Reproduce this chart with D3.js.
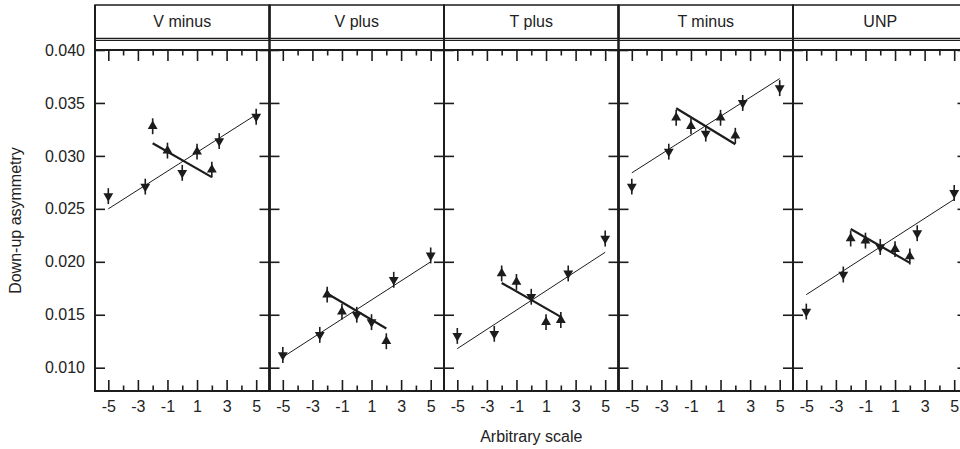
<!DOCTYPE html>
<html lang="en">
<head>
<meta charset="UTF-8">
<title>Down-up asymmetry</title>
<script src="https://d3js.org/d3.v7.min.js"></script>
<style>
  body { margin: 0; background: #fff; }
  text { font-family: "Liberation Sans", Arial, sans-serif; fill: #222; }
</style>
</head>
<body>
<script>
// panel names, left to right
const panels = ["V minus", "V plus", "T plus", "T minus", "UNP"];

// points are measured at the same x positions in every panel
const xPoints = [-5, -2.5, -2, -1, 0, 1, 2, 2.5, 5];

const vMinus = [0.0262, 0.0271, 0.0328, 0.0305, 0.0284, 0.0304, 0.0287, 0.0314, 0.0337];
const vPlus  = [0.0112, 0.0131, 0.0169, 0.0153, 0.0150, 0.0143, 0.0125, 0.0183, 0.0206];
const tPlus  = [0.0130, 0.0132, 0.0189, 0.0181, 0.0167, 0.0143, 0.0145, 0.0189, 0.0222];
const tMinus = [0.0271, 0.0304, 0.0336, 0.0328, 0.0321, 0.0336, 0.0319, 0.0350, 0.0364];
const unp    = [0.0153, 0.0188, 0.0222, 0.0220, 0.0214, 0.0212, 0.0205, 0.0227, 0.0265];
const errHalf = 0.00075;

// marker direction per point ("down" = filled down triangle, "up" = filled up triangle)
const markStd   = ["down", "down", "up", "up", "down", "up", "up", "down", "down"];
const markVPlus = ["down", "down", "up", "up", "down", "down", "up", "down", "down"];

// straight fit lines: rising one over [-5, 5], falling one over [-2, 2]
const riseX = [-5, 5];
const fallX = [-2, 2];
const riseVMinus = [0.0250, 0.0339], fallVMinus = [0.0312, 0.0280];
const riseVPlus  = [0.0110, 0.0200], fallVPlus  = [0.0170, 0.0137];
const riseTPlus  = [0.0118, 0.0209], fallTPlus  = [0.0180, 0.0148];
const riseTMinus = [0.0284, 0.0373], fallTMinus = [0.0345, 0.0311];
const riseUnp    = [0.0169, 0.0259], fallUnp    = [0.0231, 0.0199];

const xMajor = [-5, -3, -1, 1, 3, 5];
const xMinor = [-4, -2, 0, 2, 4];
const yTicks = [0.010, 0.015, 0.020, 0.025, 0.030, 0.035, 0.040];

const values = [vMinus, vPlus, tPlus, tMinus, unp];
const marks = [markStd, markVPlus, markStd, markStd, markStd];
const rises = [riseVMinus, riseVPlus, riseTPlus, riseTMinus, riseUnp];
const falls = [fallVMinus, fallVPlus, fallTPlus, fallTMinus, fallUnp];

const width = 960, height = 449;
const left = 95, panelW = 174.5, plotTop = 50, plotBottom = 391;
const headTop = 5, headBottom = 38.5, ink = "#1c1c1c";

const svg = d3.select("body").append("svg")
    .attr("width", width).attr("height", height);

const y = d3.scaleLinear().domain([0.0078, 0.040]).range([plotBottom, plotTop]);
const tri = d3.symbol().type(d3.symbolTriangle).size(42);

panels.forEach((name, i) => {
    const x0 = left + i * panelW;
    const x = d3.scaleLinear().domain([-5.9, 5.9]).range([x0, x0 + panelW]);
    const g = svg.append("g");

    // header strip
    g.append("rect").attr("x", x0).attr("y", headTop).attr("width", panelW)
        .attr("height", headBottom - headTop)
        .attr("fill", "none").attr("stroke", ink).attr("stroke-width", 1.5);
    g.append("text").attr("x", x0 + panelW / 2).attr("y", 26.5)
        .attr("text-anchor", "middle").style("font-size", "16px").text(name);

    // axes, all ticks point inward
    const clean = s => {
        s.select(".domain").remove();
        s.selectAll(".tick line").attr("stroke", ink).attr("stroke-width", 1.6);
        s.selectAll(".tick text").style("font-size", "16px").attr("fill", "#222")
            .style("font-family", "'Liberation Sans', Arial, sans-serif");
    };
    g.append("g").attr("transform", `translate(0,${plotBottom})`)
        .call(d3.axisBottom(x).tickValues(xMajor).tickSizeInner(-11).tickSizeOuter(0)
            .tickPadding(10).tickFormat(d => String(d)))
        .call(clean);
    g.append("g").attr("transform", `translate(0,${plotBottom})`)
        .call(d3.axisBottom(x).tickValues(xMinor).tickSizeInner(-5.5).tickSizeOuter(0).tickFormat(""))
        .call(clean);
    g.append("g").attr("transform", `translate(0,${plotTop})`)
        .call(d3.axisTop(x).tickValues(xMajor).tickSizeInner(-11).tickSizeOuter(0).tickFormat(""))
        .call(clean);
    g.append("g").attr("transform", `translate(0,${plotTop})`)
        .call(d3.axisTop(x).tickValues(xMinor).tickSizeInner(-5.5).tickSizeOuter(0).tickFormat(""))
        .call(clean);
    g.append("g").attr("transform", `translate(${x0},0)`)
        .call(d3.axisLeft(y).tickValues(yTicks).tickSizeInner(-10).tickSizeOuter(0)
            .tickPadding(10).tickFormat(i === 0 ? d3.format(".3f") : ""))
        .call(clean);
    g.append("g").attr("transform", `translate(${x0 + panelW},0)`)
        .call(d3.axisRight(y).tickValues(yTicks).tickSizeInner(-10).tickSizeOuter(0).tickFormat(""))
        .call(clean);

    // plot frame and dividers
    g.append("rect").attr("x", x0).attr("y", plotTop).attr("width", panelW).attr("height", plotBottom - plotTop)
        .attr("fill", "none").attr("stroke", ink).attr("stroke-width", 2);
    [x0, x0 + panelW].forEach(xx => {
        g.append("line").attr("x1", xx).attr("x2", xx).attr("y1", headTop).attr("y2", plotBottom)
            .attr("stroke", ink).attr("stroke-width", 2);
    });

    // fit lines
    const line = d3.line().x(d => x(d[0])).y(d => y(d[1]));
    g.append("path").attr("d", line(d3.zip(riseX, rises[i])))
        .attr("fill", "none").attr("stroke", ink).attr("stroke-width", 1);
    g.append("path").attr("d", line(d3.zip(fallX, falls[i])))
        .attr("fill", "none").attr("stroke", ink).attr("stroke-width", 2.2);

    // points with error bars
    const pts = xPoints.map((xv, k) => ({ x: xv, v: values[i][k], m: marks[i][k] }));
    g.selectAll(".err").data(pts).enter().append("line")
        .attr("x1", d => x(d.x)).attr("x2", d => x(d.x))
        .attr("y1", d => y(d.v - errHalf)).attr("y2", d => y(d.v + errHalf))
        .attr("stroke", ink).attr("stroke-width", 1.6);
    g.selectAll(".pt").data(pts).enter().append("path")
        .attr("d", tri)
        .attr("transform", d => `translate(${x(d.x)},${y(d.v)})` + (d.m === "down" ? " rotate(180)" : ""))
        .attr("fill", ink);
});

// thin rule under the header strip
svg.append("line").attr("x1", left).attr("x2", left + panels.length * panelW)
    .attr("y1", 40.5).attr("y2", 40.5).attr("stroke", ink).attr("stroke-width", 1);

// axis titles
svg.append("text").attr("x", left + panels.length * panelW / 2).attr("y", 442)
    .attr("text-anchor", "middle").style("font-size", "16px").text("Arbitrary scale");
svg.append("text").attr("transform", `translate(20.5,${(plotTop + plotBottom) / 2}) rotate(-90)`)
    .attr("text-anchor", "middle").style("font-size", "16px").text("Down-up asymmetry");
</script>
</body>
</html>
